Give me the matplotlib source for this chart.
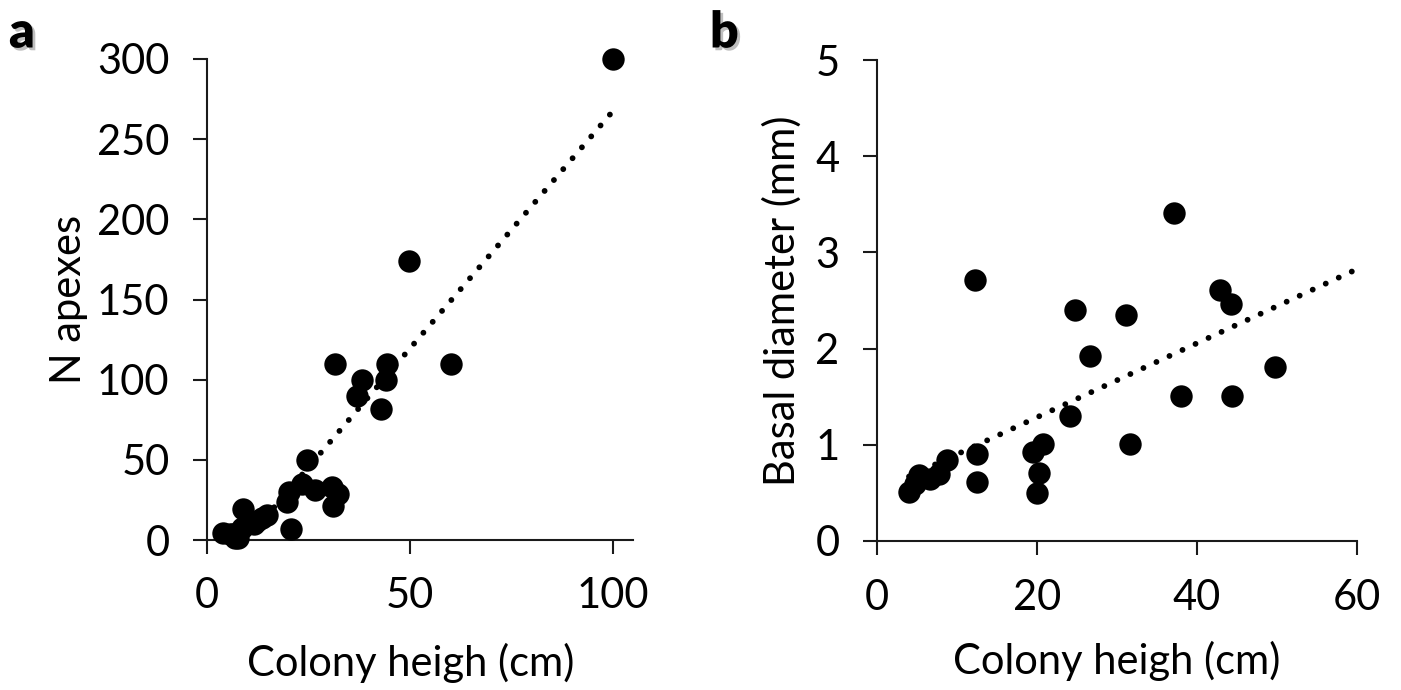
import matplotlib
matplotlib.use("Agg")
import matplotlib.pyplot as plt
import matplotlib.patheffects as pe
import numpy as np

plt.rcParams["font.family"] = ["Lato", "DejaVu Sans"]

# panel a: colony height vs number of apexes
a_height = [100, 49.8, 60.2, 31.5, 44.4, 38.1, 44.0, 37.0, 42.9, 24.7,
            23.3, 26.5, 30.9, 32.2, 31.0, 20.3, 19.6, 20.6, 8.8, 11.7,
            13.6, 14.9, 12.4, 4.0, 5.6, 6.8, 8.6, 6.4, 7.6]
a_apexes = [300, 174, 110, 110, 110, 100, 100, 90, 82, 50,
            35, 31, 33, 29, 21, 30, 23.5, 7, 19.5, 10,
            14, 15.5, 12, 4.5, 3.5, 1.5, 7.5, 4, 1]
a_trend = (2.96, -28.6)      # slope, intercept
a_xticks = [0, 50, 100]
a_yticks = [0, 50, 100, 150, 200, 250, 300]

# panel b: colony height vs basal diameter
b_height = [37.1, 12.3, 24.7, 31.1, 42.9, 44.2, 26.6, 49.8, 38.0, 44.4,
            24.1, 31.6, 20.8, 19.5, 20.3, 20.0, 12.5, 12.5, 8.7, 7.8,
            6.6, 5.3, 4.7, 4.0]
b_diam = [3.41, 2.71, 2.40, 2.35, 2.61, 2.46, 1.92, 1.81, 1.51, 1.51,
          1.30, 1.01, 1.01, 0.93, 0.71, 0.50, 0.90, 0.61, 0.84, 0.70,
          0.64, 0.69, 0.59, 0.51]
b_trend = (0.0385, 0.516)
b_xticks = [0, 20, 40, 60]
b_yticks = [0, 1, 2, 3, 4, 5]

W, H = 1401, 690
fig = plt.figure(figsize=(W / 100, H / 100), dpi=100)


def px_axes(x0, y0, x1, y1):
    return fig.add_axes([x0 / W, 1 - y1 / H, (x1 - x0) / W, (y1 - y0) / H])


axc = "#1a1a1a"
fs = 30


def style(ax, xlim, ylim, xt, yt):
    ax.set_xlim(*xlim)
    ax.set_ylim(*ylim)
    ax.set_xticks(xt)
    ax.set_yticks(yt)
    for s in ["top", "right"]:
        ax.spines[s].set_visible(False)
    for s in ["left", "bottom"]:
        ax.spines[s].set_linewidth(1.5)
        ax.spines[s].set_color(axc)
    ax.tick_params(direction="out", length=10, width=1.5, color=axc,
                   labelsize=fs, pad=17)
    ax.tick_params(axis="y", pad=17)


def trend(ax, k, b, x0, x1):
    xs = np.array([x0, x1])
    ax.plot(xs, k * xs + b, color="black", lw=4.2,
            linestyle=(0, (0.01, 2.45)), dash_capstyle="round", zorder=2)


# panel a
ax1 = px_axes(207, 59, 633, 540)
style(ax1, (0, 105), (0, 300), a_xticks, a_yticks)
trend(ax1, *a_trend, -a_trend[1] / a_trend[0], 100)
ax1.scatter(a_height, a_apexes, s=260, color="black", lw=0, zorder=3, clip_on=False)
ax1.text(0.477, -0.255, "Colony heigh (cm)", transform=ax1.transAxes,
         ha="center", va="center", fontsize=fs)
ax1.text(-0.325, 0.5, "N apexes", transform=ax1.transAxes, rotation=90,
         ha="center", va="center", fontsize=fs)

# panel b
ax2 = px_axes(877, 60, 1357, 541)
style(ax2, (0, 60), (0, 5), b_xticks, b_yticks)
trend(ax2, *b_trend, min(b_height), 60)
ax2.scatter(b_height, b_diam, s=260, color="black", lw=0, zorder=3, clip_on=False)
ax2.text(0.50, -0.25, "Colony heigh (cm)", transform=ax2.transAxes,
         ha="center", va="center", fontsize=fs)
ax2.text(-0.198, 0.5, "Basal diameter (mm)", transform=ax2.transAxes,
         rotation=90, ha="center", va="center", fontsize=fs)

shadow = [pe.withSimplePatchShadow(offset=(2, -2), shadow_rgbFace="gray", alpha=0.5)]
fig.text(9 / W, 1 - 33 / H, "a", fontsize=36, fontweight="heavy",
         ha="left", va="center", path_effects=shadow)
fig.text(710 / W, 1 - 33 / H, "b", fontsize=36, fontweight="heavy",
         ha="left", va="center", path_effects=shadow)

fig.savefig("out.png", dpi=100)
